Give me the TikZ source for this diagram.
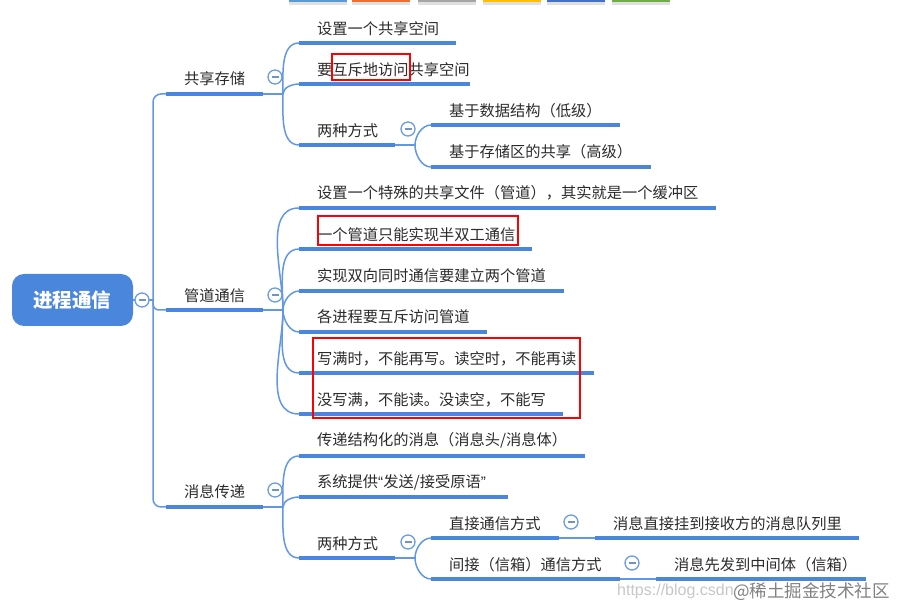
\documentclass[tikz,border=0pt]{standalone}
\usepackage{fontspec}
\setmainfont{Noto Sans CJK SC}
\newfontfamily\wmsans{Liberation Sans}
\definecolor{barblue}{HTML}{4A86DB}
\definecolor{linkblue}{HTML}{6297E3}
\definecolor{ringblue}{HTML}{6C9DE0}
\definecolor{txt}{HTML}{2B2B2B}
\definecolor{taba}{HTML}{5B9BD5}
\definecolor{tabb}{HTML}{ED7031}
\definecolor{tabc}{HTML}{A5A5A5}
\definecolor{tabd}{HTML}{FFC000}
\definecolor{tabe}{HTML}{4472C4}
\definecolor{tabf}{HTML}{70AD47}
\tikzset{
  x=1pt,y=-1pt,
  lbl/.style={anchor=west,inner sep=0pt,text=txt,font=\fontsize{15.25}{15}\selectfont},
  barline/.style={draw=barblue,line width=4.4pt},
  linkline/.style={draw=linkblue,line width=1.5pt},
  redbox/.style={draw=red,line width=2pt},
  tabbar/.style={inner sep=0pt,minimum width=58pt,minimum height=3pt,anchor=north west},
  ring/.style={circle,draw=ringblue,line width=1.3pt,fill=white,minimum size=14pt,inner sep=0pt,
    path picture={\draw[draw=ringblue!70!gray,line width=1.5pt] ([xshift=-3.5pt]path picture bounding box.center)--([xshift=3.5pt]path picture bounding box.center);}},
}
% name, text x, text y, bar x0, bar x1, bar y, text
\newcommand{\topic}[7]{%
  \node[lbl] (#1) at (#2,#3+0.7) {#7};
  \coordinate (#1-l) at (#4,#6);
  \coordinate (#1-r) at (#5,#6);
  \coordinate (#1-j) at (#5+20,#6);
  \draw[barline] (#1-l) -- (#1-r);
}
\newcommand{\up}[2]{\draw[linkline] (#1-j) to[out=90,in=180,looseness=0.9] (#2-l);}
\newcommand{\down}[2]{\draw[linkline] (#1-j) to[out=-90,in=180,looseness=0.9] (#2-l);}
\newcommand{\stem}[1]{\draw[linkline] (#1-r) -- (#1-j);}
\begin{document}
\begin{tikzpicture}
\useasboundingbox (0,0) rectangle (898,609);
% top tabs
\node[tabbar,fill=black!12] (tabshadow) at (289,1.5) {};
\node[tabbar,fill=black!12] (tabshadowb) at (352,1.5) {};
\node[tabbar,fill=black!12] (tabshadowc) at (418,1.5) {};
\node[tabbar,fill=black!12] (tabshadowd) at (483,1.5) {};
\node[tabbar,fill=black!12] (tabshadowe) at (547,1.5) {};
\node[tabbar,fill=black!12] (tabshadowf) at (612,1.5) {};
\node[tabbar,fill=taba] (na) at (289,-1.5) {};
\node[tabbar,fill=tabb] (nb) at (352,-1.5) {};
\node[tabbar,fill=tabc] (nc) at (418,-1.5) {};
\node[tabbar,fill=tabd] (nd) at (483,-1.5) {};
\node[tabbar,fill=tabe] (ne) at (547,-1.5) {};
\node[tabbar,fill=tabf] (nf) at (612,-1.5) {};

% root
\node[fill=barblue,rounded corners=12pt,minimum width=121pt,minimum height=52pt,inner sep=0pt,text=white,
  font=\fontsize{19.5}{20}\bfseries\selectfont] (root) at (72.5,300) {进程通信};
\coordinate (root-j) at (153,300);
\draw[linkline] (root) -- (root-j);

% level 1
\topic{share}{184}{78}{166}{263}{94}{共享存储}
\topic{pipe}{184}{295}{166}{263}{310}{管道通信}
\topic{msg}{184}{491}{166}{263}{507}{消息传递}
% shared memory
\topic{sa}{317}{28}{299}{456}{43}{设置一个共享空间}
\topic{sb}{317}{69}{299}{470}{84}{要互斥地访问共享空间}
\topic{sc}{317}{130}{299}{395}{145}{两种方式}
\topic{sca}{449}{110}{431}{620}{125}{基于数据结构（低级）}
\topic{scb}{449}{151}{431}{651}{167}{基于存储区的共享（高级）}
% pipe
\topic{pa}{317}{192}{299}{716}{208}{设置一个特殊的共享文件（管道），其实就是一个缓冲区}
\topic{pb}{317}{234}{299}{532}{249}{一个管道只能实现半双工通信}
\topic{pc}{317}{275}{299}{564}{291}{实现双向同时通信要建立两个管道}
\topic{pd}{317}{316}{299}{487}{332}{各进程要互斥访问管道}
\topic{pe}{317}{358}{299}{594}{373}{写满时，不能再写。读空时，不能再读}
\topic{pf}{317}{399}{299}{563}{414}{没写满，不能读。没读空，不能写}
% message
\topic{ma}{317}{440}{299}{585}{456}{传递结构化的消息（消息头/消息体）}
\topic{mb}{317}{482}{299}{508}{497}{系统提供{\wmsans“}发送/接受原语{\wmsans”}}
\topic{mc}{317}{543}{299}{395}{558}{两种方式}
\topic{mca}{449}{523}{431}{559}{538}{直接通信方式}
\topic{mcb}{449}{564}{431}{620}{579}{间接（信箱）通信方式}
\topic{mcaa}{613}{523}{595}{859}{538}{消息直接挂到接收方的消息队列里}
\topic{mcba}{674}{564}{656}{866}{579}{消息先发到中间体（信箱）}

% connectors
\draw[linkline,rounded corners=8pt] (root-j) |- (share-l);
\draw[linkline,rounded corners=8pt] (root-j) |- (msg-l);
\draw[linkline,rounded corners=6pt] (root-j) |- (pipe-l);
\stem{share}\stem{pipe}\stem{msg}\stem{sc}\stem{mc}
\up{share}{sa}\up{share}{sb}\down{share}{sc}
\up{sc}{sca}\down{sc}{scb}
\up{pipe}{pa}\up{pipe}{pb}\up{pipe}{pc}
\down{pipe}{pd}\down{pipe}{pe}\down{pipe}{pf}
\up{msg}{ma}\up{msg}{mb}\down{msg}{mc}
\up{mc}{mca}\down{mc}{mcb}
\draw[linkline] (mca-r) -- (mcaa-l);
\draw[linkline] (mcb-r) -- (mcba-l);

% collapse rings
\node[ring] (r0) at (142,300) {};
\node[ring] (r1) at (275,77) {};
\node[ring] (r2) at (275,295) {};
\node[ring] (r3) at (275,490) {};
\node[ring] (r4) at (408,129) {};
\node[ring] (r5) at (408,542) {};
\node[ring] (r6) at (571,522) {};
\node[ring] (r7) at (632,563) {};

% red boxes
\node[redbox,inner sep=0pt,minimum width=78pt,minimum height=26pt] (boxa) at (371,67) {};
\node[redbox,inner sep=0pt,minimum width=200pt,minimum height=29pt] (boxb) at (418,231) {};
\node[redbox,inner sep=0pt,minimum width=267pt,minimum height=80pt] (boxc) at (446.5,378) {};

% watermarks
\node[anchor=west,inner sep=0pt,text=black!22,font=\wmsans\fontsize{16}{16}\selectfont] (wma) at (617,591) {https://blog.csdn};
\node[anchor=west,inner sep=0pt,text=black!50,font=\fontsize{17.5}{17}\selectfont] (wmb) at (733,592) {@稀土掘金技术社区};
\end{tikzpicture}
\end{document}
